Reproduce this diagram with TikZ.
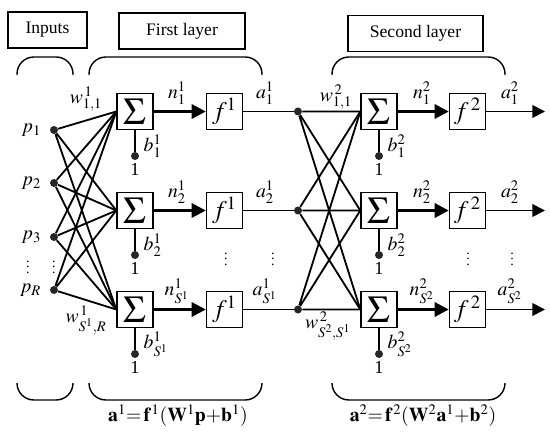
\documentclass[tikz,border=0pt]{standalone}
\usepackage{mathptmx}
\usepackage{fontspec}
\setmainfont{Liberation Serif}
\usetikzlibrary{arrows.meta,positioning}

\begin{document}
\begin{tikzpicture}[x=0.025cm,y=-0.025cm,
          font=\fontsize{13}{15}\selectfont,
          hdr/.style={draw,rectangle,line width=1pt,minimum height=0.9cm,inner sep=0pt,font=\fontsize{12.5}{15}\selectfont},
          sumbox/.style={draw,rectangle,line width=1pt,minimum size=0.9cm,inner sep=0pt,font=\fontsize{27}{27}\selectfont},
          actbox/.style={draw,rectangle,line width=1pt,minimum size=0.9cm,inner sep=0pt,font=\fontsize{18}{18}\selectfont},
          dot/.style={circle,fill=black!85,minimum size=0.2cm,inner sep=0pt},
          wire/.style={line width=1.3pt},
          sig/.style={line width=2pt,-{Triangle[length=10pt,width=10pt]}},
          outw/.style={line width=1.3pt,-{Triangle[length=9pt,width=9pt]}},
          brc/.style={line width=1pt,rounded corners=12pt},
          lbl/.style={inner sep=1pt,font=\fontsize{14}{16}\selectfont},
          vdts/.style={inner sep=0pt,font=\fontsize{10}{10}\selectfont},
          eqn/.style={font=\fontsize{14}{16}\selectfont}]
        \useasboundingbox (0,0) rectangle (550,432);
        \node[hdr,minimum width=1.975cm] (inp)  at (47.5,30)  {Inputs};
        \node[hdr,minimum width=3.15cm]  (lay1) at (182,31)   {First layer};
        \node[hdr,minimum width=3.375cm] (lay2) at (415.5,33.5) {Second layer};
        \draw[brc] (17,75) -- (17,57) -- (73,57) -- (73,75);
        \draw[brc] (89,75) -- (89,57) -- (262,57) -- (262,75);
        \draw[brc] (332,75) -- (332,57) -- (505,57) -- (505,75);
        \draw[brc] (17,383) -- (17,400) -- (73,400) -- (73,383);
        \draw[brc] (89,383) -- (89,400) -- (262,400) -- (262,383);
        \draw[brc] (332,383) -- (332,400) -- (505,400) -- (505,383);
        \node[dot] (p1) at (54,130) {};
        \node[dot] (p2) at (54,183) {};
        \node[dot] (p3) at (54,237) {};
        \node[dot] (pR) at (54,290) {};
        \node[lbl,left=5pt of p1] (pl1) {$p_1$};
        \node[lbl,left=5pt of p2] (pl2) {$p_2$};
        \node[lbl,left=5pt of p3] (pl3) {$p_3$};
        \node[lbl,left=5pt of pR] (plR) {$p_R$};
        \node[vdts] (vd1) at (54,263) {$\vdots$};
        \node[vdts] (vd2) at (28,263) {$\vdots$};
        \node[sumbox] (s1) at (135,111.5) {$\Sigma$};
        \node[sumbox] (s2) at (135,210.5) {$\Sigma$};
        \node[sumbox] (s3) at (135,309.5) {$\Sigma$};
        \node[actbox] (f1) at (224.5,111.5) {$f^1$};
        \node[actbox] (f2) at (224.5,210.5) {$f^1$};
        \node[actbox] (f3) at (224.5,309.5) {$f^1$};
        \node[dot] (b1) at (135,156) {};
        \node[dot] (b2) at (135,255) {};
        \node[dot] (b3) at (135,354) {};
        \node[below=-1pt of b1] (one1) {1};
        \node[below=-1pt of b2] (one2) {1};
        \node[below=-1pt of b3] (one3) {1};
        \node[lbl,anchor=west] (bl1) at (142,146) {$b^1_1$};
        \node[lbl,anchor=west] (bl2) at (142,245) {$b^1_2$};
        \node[lbl,anchor=west] (bl3) at (142,344) {$b^1_{S^1}$};
        \node[lbl] (n1) at (177,93)  {$n^1_1$};
        \node[lbl] (n2) at (177,192) {$n^1_2$};
        \node[lbl] (n3) at (177,291) {$n^1_{S^1}$};
        \node[lbl] (a1) at (265,93)  {$a^1_1$};
        \node[lbl] (a2) at (265,192) {$a^1_2$};
        \node[lbl] (a3) at (265,291) {$a^1_{S^1}$};
        \node[lbl] (w11) at (86,99) {$w^{\,1}_{1,1}$};
        \node[lbl] (w1R) at (86,320) {$w^{\,1}_{S^1,R}$};
        \node[vdts] (vd3) at (226,255) {$\vdots$};
        \node[vdts] (vd4) at (273,255) {$\vdots$};
        \draw[wire] (p1) -- (s1.west) (p1) -- (s2.west) (p1) -- (s3.west);
        \draw[wire] (p2) -- (s1.west) (p2) -- (s2.west) (p2) -- (s3.west);
        \draw[wire] (p3) -- (s1.west) (p3) -- (s2.west) (p3) -- (s3.west);
        \draw[wire] (pR) -- (s1.west) (pR) -- (s2.west) (pR) -- (s3.west);
        \draw[wire] (s1) -- (b1) (s2) -- (b2) (s3) -- (b3);
        \draw[sig] (s1) -- (f1);
        \draw[sig] (s2) -- (f2);
        \draw[sig] (s3) -- (f3);
        \node[dot] (h1) at (298,111.5) {};
        \node[dot] (h2) at (298,210.5) {};
        \node[dot] (h3) at (298,309.5) {};
        \draw[wire] (f1) -- (h1) (f2) -- (h2) (f3) -- (h3);
        \node[sumbox] (t1) at (379,111.5) {$\Sigma$};
        \node[sumbox] (t2) at (379,210.5) {$\Sigma$};
        \node[sumbox] (t3) at (379,309.5) {$\Sigma$};
        \node[actbox] (g1) at (467.5,111.5) {$f^{\,2}$};
        \node[actbox] (g2) at (467.5,210.5) {$f^{\,2}$};
        \node[actbox] (g3) at (467.5,309.5) {$f^{\,2}$};
        \coordinate (o1) at (545,111.5);
        \coordinate (o2) at (545,210.5);
        \coordinate (o3) at (545,309.5);
        \node[dot] (c1) at (379,156) {};
        \node[dot] (c2) at (379,255) {};
        \node[dot] (c3) at (379,354) {};
        \node[below=-1pt of c1] (uno1) {1};
        \node[below=-1pt of c2] (uno2) {1};
        \node[below=-1pt of c3] (uno3) {1};
        \node[lbl,anchor=west] (cl1) at (386,146) {$b^2_1$};
        \node[lbl,anchor=west] (cl2) at (386,245) {$b^2_2$};
        \node[lbl,anchor=west] (cl3) at (386,344) {$b^2_{S^2}$};
        \node[lbl] (m1) at (422,93)  {$n^2_1$};
        \node[lbl] (m2) at (422,192) {$n^2_2$};
        \node[lbl] (m3) at (422,291) {$n^2_{S^2}$};
        \node[lbl] (e1) at (510,93)  {$a^2_1$};
        \node[lbl] (e2) at (510,192) {$a^2_2$};
        \node[lbl] (e3) at (510,291) {$a^2_{S^2}$};
        \node[lbl] (w21) at (336,97) {$w^{\,2}_{1,1}$};
        \node[lbl] (w2S) at (328,326) {$w^{\,2}_{S^2,S^1}$};
        \node[vdts] (vd5) at (468,255) {$\vdots$};
        \node[vdts] (vd6) at (512,255) {$\vdots$};
        \draw[wire] (h1) -- (t1.west) (h1) -- (t2.west) (h1) -- (t3.west);
        \draw[wire] (h2) -- (t1.west) (h2) -- (t2.west) (h2) -- (t3.west);
        \draw[wire] (h3) -- (t1.west) (h3) -- (t2.west) (h3) -- (t3.west);
        \draw[wire] (t1) -- (c1) (t2) -- (c2) (t3) -- (c3);
        \draw[sig] (t1) -- (g1);
        \draw[sig] (t2) -- (g2);
        \draw[sig] (t3) -- (g3);
        \draw[outw] (g1) -- (o1);
        \draw[outw] (g2) -- (o2);
        \draw[outw] (g3) -- (o3);
        \node[eqn] (eq1) at (178,416) {$\mathbf{a}^1{=}\,\mathbf{f}^{\,1}(\mathbf{W}^1\mathbf{p}{+}\mathbf{b}^1)$};
        \node[eqn] (eq2) at (423,416) {$\mathbf{a}^2{=}\,\mathbf{f}^{\,2}(\mathbf{W}^2\mathbf{a}^1{+}\mathbf{b}^2)$};
      \end{tikzpicture}
\end{document}
